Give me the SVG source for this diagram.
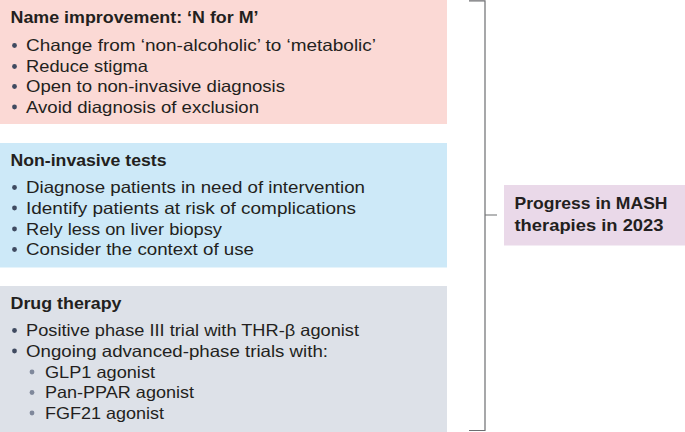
<svg xmlns="http://www.w3.org/2000/svg" width="685" height="432" viewBox="0 0 685 432">
<style>
.t{font-family:"Liberation Sans",Arial,sans-serif;font-size:16.5px;fill:#231f20}
.h{font-family:"Liberation Sans",Arial,sans-serif;font-size:16.5px;font-weight:bold;fill:#231f20}
.b{fill:#3f4a60}
.s{fill:#7f889b}
.br{fill:none;stroke:#6d6e71;stroke-width:1.2}
</style>
<rect width="685" height="432" fill="#ffffff"/>
<g id="name-improvement">
<rect x="0" y="0" width="447" height="124" fill="#fbd9d5"/>
<text class="h" x="10.5" y="23" textLength="248" lengthAdjust="spacingAndGlyphs">Name improvement: ‘N for M’</text>
<circle class="b" cx="14.5" cy="45.5" r="2.4"/><text class="t" x="26" y="51" textLength="350" lengthAdjust="spacingAndGlyphs">Change from ‘non-alcoholic’ to ‘metabolic’</text>
<circle class="b" cx="14.5" cy="66.5" r="2.4"/><text class="t" x="26" y="72" textLength="122" lengthAdjust="spacingAndGlyphs">Reduce stigma</text>
<circle class="b" cx="14.5" cy="86.5" r="2.4"/><text class="t" x="26" y="92" textLength="259" lengthAdjust="spacingAndGlyphs">Open to non-invasive diagnosis</text>
<circle class="b" cx="14.5" cy="107" r="2.4"/><text class="t" x="26" y="112.5" textLength="233" lengthAdjust="spacingAndGlyphs">Avoid diagnosis of exclusion</text>
</g>
<g id="non-invasive-tests">
<rect x="0" y="143" width="447" height="124.5" fill="#cde9f8"/>
<text class="h" x="10.5" y="166" textLength="156" lengthAdjust="spacingAndGlyphs">Non-invasive tests</text>
<circle class="b" cx="14.5" cy="187.5" r="2.4"/><text class="t" x="26" y="193" textLength="339" lengthAdjust="spacingAndGlyphs">Diagnose patients in need of intervention</text>
<circle class="b" cx="14.5" cy="208" r="2.4"/><text class="t" x="26" y="213.5" textLength="330" lengthAdjust="spacingAndGlyphs">Identify patients at risk of complications</text>
<circle class="b" cx="14.5" cy="229" r="2.4"/><text class="t" x="26" y="234.5" textLength="196" lengthAdjust="spacingAndGlyphs">Rely less on liver biopsy</text>
<circle class="b" cx="14.5" cy="249.5" r="2.4"/><text class="t" x="26" y="255" textLength="228" lengthAdjust="spacingAndGlyphs">Consider the context of use</text>
</g>
<g id="drug-therapy">
<rect x="0" y="286" width="447" height="146" fill="#dde1e8"/>
<text class="h" x="10.5" y="309" textLength="111" lengthAdjust="spacingAndGlyphs">Drug therapy</text>
<circle class="b" cx="14.5" cy="330.5" r="2.4"/><text class="t" x="26" y="336" textLength="333" lengthAdjust="spacingAndGlyphs">Positive phase III trial with THR-β agonist</text>
<circle class="b" cx="14.5" cy="351" r="2.4"/><text class="t" x="26" y="356.5" textLength="302" lengthAdjust="spacingAndGlyphs">Ongoing advanced-phase trials with:</text>
<circle class="s" cx="32" cy="372" r="2.4"/><text class="t" x="45" y="377.5" textLength="110" lengthAdjust="spacingAndGlyphs">GLP1 agonist</text>
<circle class="s" cx="32" cy="392.5" r="2.4"/><text class="t" x="45" y="398" textLength="149" lengthAdjust="spacingAndGlyphs">Pan-PPAR agonist</text>
<circle class="s" cx="32" cy="413" r="2.4"/><text class="t" x="45" y="418.5" textLength="119" lengthAdjust="spacingAndGlyphs">FGF21 agonist</text>
</g>
<g id="connectors">
<path class="br" d="M469,0.8 H485 V430.5 H469 M485,215 H497"/>
</g>
<g id="progress">
<rect x="504" y="185" width="181" height="60.5" fill="#ead9e9"/>
<text class="h" x="514.5" y="208.5" textLength="153" lengthAdjust="spacingAndGlyphs">Progress in MASH</text>
<text class="h" x="514.5" y="230.5" textLength="149" lengthAdjust="spacingAndGlyphs">therapies in 2023</text>
</g>
</svg>
